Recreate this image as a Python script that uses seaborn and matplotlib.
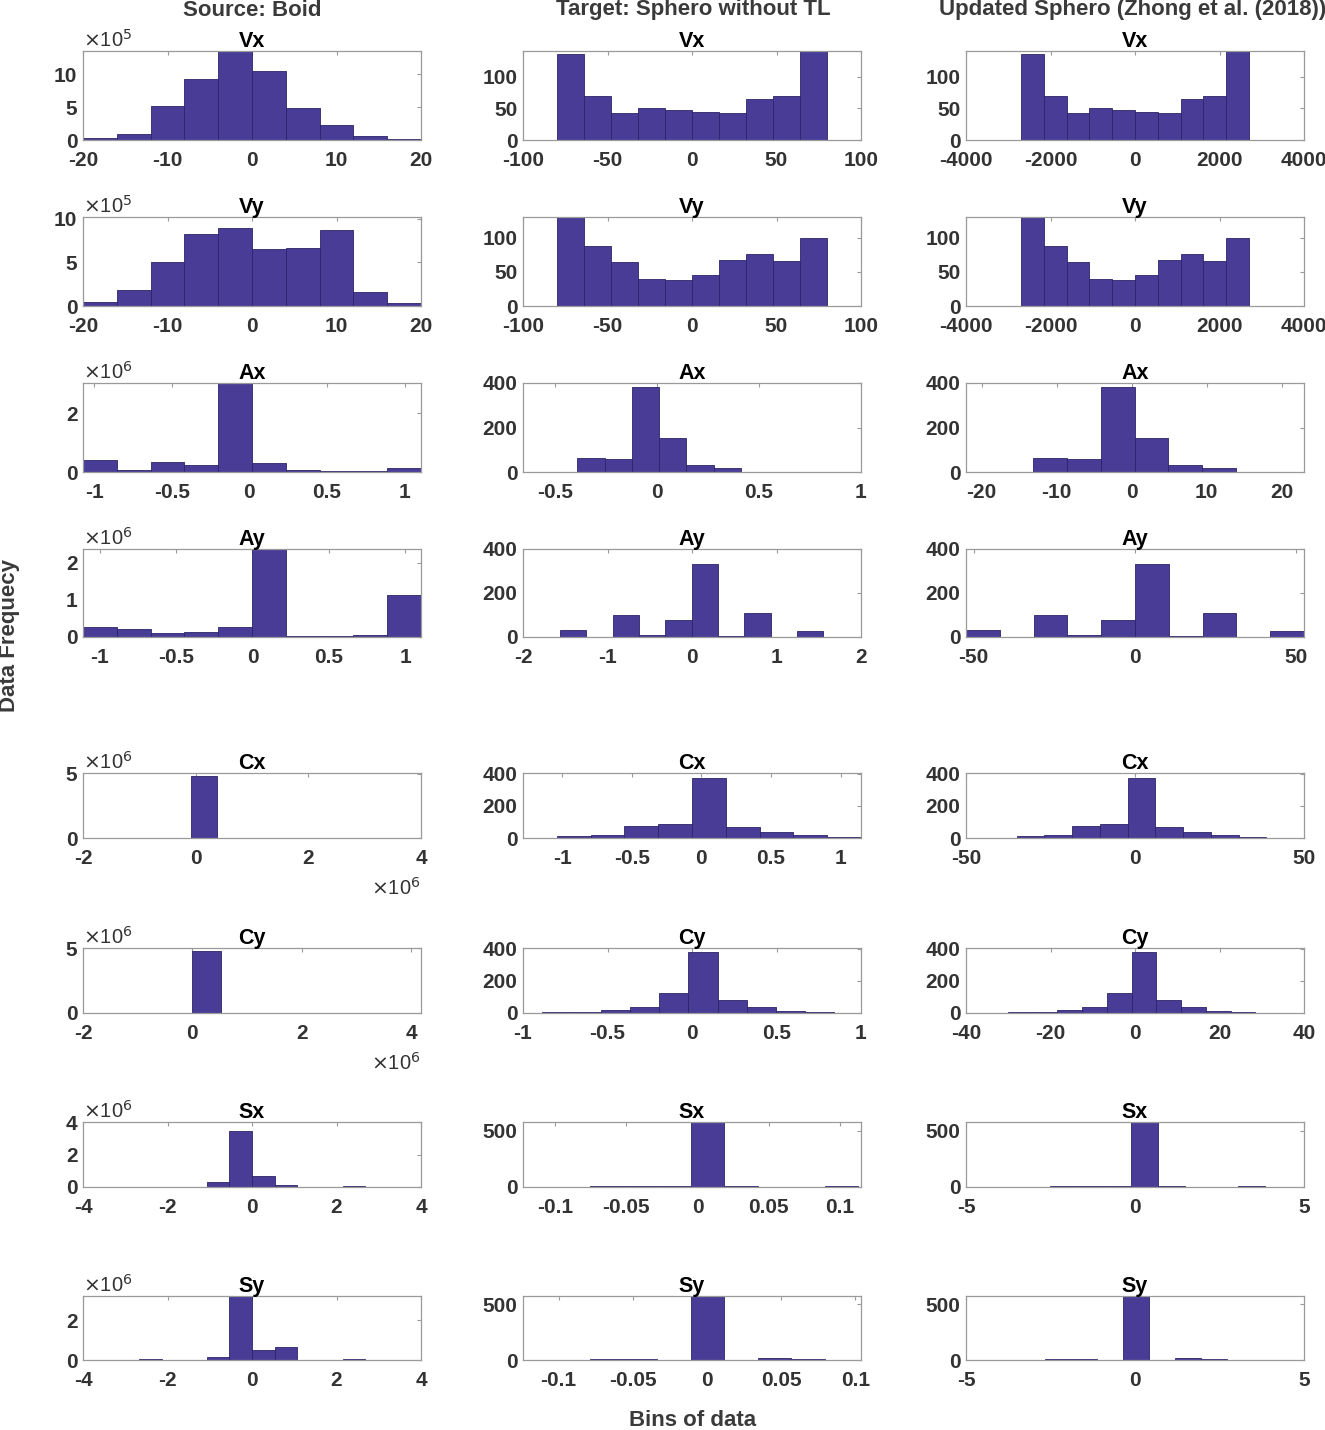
import numpy as np
import pandas as pd
import matplotlib
matplotlib.use("Agg")
import matplotlib.pyplot as plt
import seaborn as sns
from matplotlib.ticker import FuncFormatter

# ---------------- data ----------------
variables = ["Vx", "Vy", "Ax", "Ay", "Cx", "Cy", "Sx", "Sy"]
column_titles = [
    "Source: Boid",
    "Target: Sphero without TL",
    "Updated Sphero (Zhong et al. (2018))",
]

# Source (Boid) counts, expressed in units of the y multiplier (x10^5 / x10^6)
boid_vx = [0.25, 0.9, 5.2, 9.3, 13.5, 10.5, 4.85, 2.25, 0.65, 0.1]
boid_vy = [0.5, 1.8, 5.1, 8.2, 8.9, 6.5, 6.6, 8.7, 1.65, 0.4]
boid_ax = [0.42, 0.06, 0.33, 0.25, 3.03, 0.3, 0.06, 0.03, 0.05, 0.13]
boid_ay = [0.28, 0.21, 0.12, 0.14, 0.26, 2.37, 0.04, 0.02, 0.045, 1.13]
boid_cx = [4.79, 0, 0, 0, 0, 0, 0, 0, 0, 0]
boid_cy = [4.77, 0, 0, 0, 0, 0, 0, 0, 0, 0]
boid_sx = [0.03, 0.01, 0.005, 0.31, 3.44, 0.66, 0.12, 0.005, 0.01, 0.04]
boid_sy = [0.03, 0.01, 0.005, 0.17, 3.2, 0.5, 0.67, 0.005, 0.01, 0.03]
boid_exponent = [5, 5, 6, 6, 6, 6, 6, 6]

# Sphero counts (same for the target and the updated data)
sphero_vx = [136, 70, 43, 50, 48, 45, 43, 65, 70, 141]
sphero_vy = [130, 87, 64, 40, 38, 45, 67, 76, 66, 100]
sphero_ax = [1, 62, 59, 380, 151, 33, 17, 0, 1, 0]
sphero_ay = [32, 0, 100, 9, 79, 332, 6, 110, 0, 27]
sphero_cx = [1, 10, 17, 77, 85, 373, 71, 37, 21, 6]
sphero_cy = [4, 8, 21, 37, 126, 377, 79, 37, 15, 4]
sphero_sx = [2, 4, 5, 5, 6, 578, 8, 4, 3, 5]
sphero_sy = [2, 4, 5, 9, 3, 575, 2, 17, 8, 3]

# bin ranges (first edge, last edge) of the 10 equal bins
boid_bins = [(-20, 20), (-20, 20), (-1.071, 1.105), (-1.109, 1.103),
             (-0.09, 4.61), (0.0, 5.25), (-2.677, 2.683), (-2.677, 2.683)]
target_bins = [(-80, 80), (-80, 80), (-0.526, 0.814), (-1.56, 1.553),
               (-1.281, 1.146), (-0.887, 0.843), (-0.1226, 0.1129), (-0.124, 0.102)]
updated_bins = [(-2700, 2700), (-2700, 2700), (-17.6, 27.4), (-52.4, 52.5),
                (-43.2, 38.9), (-30.1, 28.5), (-4.12, 3.86), (-4.22, 3.5)]

boid_counts = [boid_vx, boid_vy, boid_ax, boid_ay, boid_cx, boid_cy, boid_sx, boid_sy]
sphero_counts = [sphero_vx, sphero_vy, sphero_ax, sphero_ay,
                 sphero_cx, sphero_cy, sphero_sx, sphero_sy]

# ---------------- axis settings ----------------
boid_xlim = [(-20, 20), (-20, 20), (-1.071, 1.105), (-1.109, 1.103),
             (-2, 4), (-2, 4.18), (-4, 4), (-4, 4)]
boid_xticks = [[-20, -10, 0, 10, 20]] * 2 + [[-1, -0.5, 0, 0.5, 1]] * 2 + \
              [[-2, 0, 2, 4]] * 2 + [[-4, -2, 0, 2, 4]] * 2
boid_ylim = [13.5, 10.2, 3.03, 2.37, 5.05, 5.0, 4.0, 3.2]
boid_yticks = [[0, 5, 10], [0, 5, 10], [0, 2], [0, 1, 2], [0, 5], [0, 5], [0, 2, 4], [0, 2]]

target_xlim = [(-100, 100), (-100, 100), (-0.658, 1.0), (-2, 2),
               (-1.281, 1.146), (-1, 1), (-0.1226, 0.1147), (-0.124, 0.1038)]
target_xticks = [[-100, -50, 0, 50, 100]] * 2 + [[-0.5, 0, 0.5, 1], [-2, -1, 0, 1, 2],
                 [-1, -0.5, 0, 0.5, 1], [-1, -0.5, 0, 0.5, 1]] + [[-0.1, -0.05, 0, 0.05, 0.1]] * 2
updated_xlim = [(-4000, 4000), (-4000, 4000), (-22.1, 23.0), (-52.4, 52.5),
                (-50, 50), (-40, 40), (-5, 5), (-5, 5)]
updated_xticks = [[-4000, -2000, 0, 2000, 4000]] * 2 + [[-20, -10, 0, 10, 20], [-50, 0, 50],
                  [-50, 0, 50], [-40, -20, 0, 20, 40]] + [[-5, 0, 5]] * 2
sphero_ylim = [141, 130, 400, 400, 405, 405, 578, 575]
sphero_yticks = [[0, 50, 100]] * 2 + [[0, 200, 400]] * 4 + [[0, 500]] * 2

# ---------------- style ----------------
sns.set_theme(style="white")
plt.rcParams["font.family"] = ["Liberation Sans", "DejaVu Sans"]
plt.rcParams["axes.unicode_minus"] = False

BAR = "#483c96"
EDGE = "#2b2468"
SPINE = "#9a9a9a"
TEXT = "#333333"

W, H = 1325, 1430
col_left = [83, 523, 966]
col_width = 338
rows_px = [(51, 140), (217, 306), (383, 472), (549, 637),
           (773, 838), (948, 1013), (1122, 1187), (1296, 1360)]

fig = plt.figure(figsize=(W / 100, H / 100), dpi=100)
fmt = FuncFormatter(lambda v, p: f"{v:g}")


def draw_panel(ax, counts, bin_range, xlim, xticks, ylim, yticks, title):
    edges = np.linspace(bin_range[0], bin_range[1], len(counts) + 1)
    df = pd.DataFrame({"center": (edges[:-1] + edges[1:]) / 2,
                       "count": np.asarray(counts, dtype=float)})
    sns.histplot(data=df, x="center", weights="count", bins=edges.tolist(), ax=ax,
                 color=BAR, edgecolor=EDGE, linewidth=0.6, alpha=1)
    ax.set_xlim(*xlim)
    ax.set_ylim(0, ylim)
    ax.set_xticks(xticks)
    ax.set_yticks(yticks)
    ax.xaxis.set_major_formatter(fmt)
    ax.yaxis.set_major_formatter(fmt)
    ax.set_xlabel("")
    ax.set_ylabel("")
    ax.set_title(title, fontsize=15.5, fontweight="bold", color="black", pad=3)
    for s in ax.spines.values():
        s.set_visible(True)
        s.set_color(SPINE)
        s.set_linewidth(0.9)
    ax.tick_params(direction="in", top=True, right=True, length=3, width=0.8,
                   color=SPINE, labelsize=15, labelcolor=TEXT)
    ax.tick_params(axis="x", pad=8)
    ax.tick_params(axis="y", pad=4)
    for lab in ax.get_xticklabels() + ax.get_yticklabels():
        lab.set_fontweight("bold")


for r, var in enumerate(variables):
    top, bottom = rows_px[r]
    for c in range(3):
        ax = fig.add_axes([col_left[c] / W, 1 - bottom / H, col_width / W, (bottom - top) / H])
        if c == 0:
            draw_panel(ax, boid_counts[r], boid_bins[r], boid_xlim[r], boid_xticks[r],
                       boid_ylim[r], boid_yticks[r], var)
            ax.text(0.0, 1.0, r"$\times$10$^{%d}$" % boid_exponent[r], transform=ax.transAxes,
                    ha="left", va="bottom", fontsize=14.5, color=TEXT)
            if var in ("Cx", "Cy"):
                ax.text(1.0, -0.6, r"$\times$10$^{6}$", transform=ax.transAxes,
                        ha="right", va="top", fontsize=14.5, color=TEXT)
        elif c == 1:
            draw_panel(ax, sphero_counts[r], target_bins[r], target_xlim[r], target_xticks[r],
                       sphero_ylim[r], sphero_yticks[r], var)
        else:
            draw_panel(ax, sphero_counts[r], updated_bins[r], updated_xlim[r], updated_xticks[r],
                       sphero_ylim[r], sphero_yticks[r], var)

# column headers and shared labels
col_centers = [252, 693, 1133]
for cx, t in zip(col_centers, column_titles):
    fig.text(cx / W, 1 - 10 / H, t, ha="center", va="center", fontsize=16,
             fontweight="bold", color="#3a3a3a")
fig.text(10 / W, 1 - 635 / H, "Data Frequecy", rotation=90, ha="center", va="center",
         fontsize=16, fontweight="bold", color="#3a3a3a")
fig.text(693 / W, 1 - 1420 / H, "Bins of data", ha="center", va="center",
         fontsize=16, fontweight="bold", color="#3a3a3a")

fig.savefig("out.png", dpi=100)
